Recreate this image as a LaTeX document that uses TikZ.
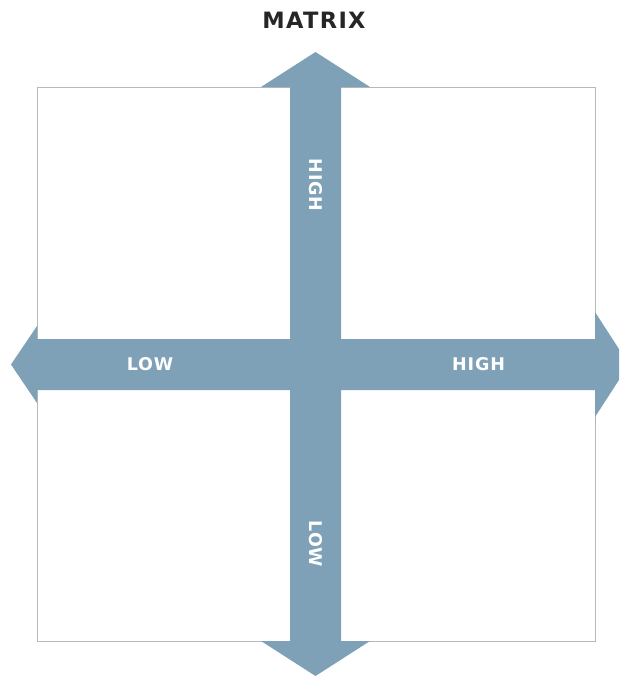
\documentclass[tikz,border=0pt]{standalone}
\usepackage{fontspec}
\setmainfont{DejaVu Sans}
\definecolor{arrowblue}{RGB}{127,161,183}
\definecolor{framegray}{RGB}{185,185,185}
\begin{document}
\begin{tikzpicture}[x=1pt,y=-1pt,
  lbl/.style={text=white,font=\fontsize{17.5}{20}\selectfont\bfseries\addfontfeature{LetterSpace=5},inner sep=0pt},
  ttl/.style={text=black!85,font=\fontsize{22.5}{26}\selectfont\bfseries\addfontfeature{LetterSpace=6},inner sep=0pt}]
\useasboundingbox (0,0) rectangle (619,677);
\clip (0,0) rectangle (619,677);
\fill[white] (0,0) rectangle (619,677);
\node[draw=framegray,line width=1pt,minimum width=558pt,minimum height=554pt,inner sep=0pt,anchor=north west] (frame) at (37,87) {};
% horizontal arrow
\fill[arrowblue] (11,364.5) -- (37,326) -- (37,339) -- (595,339) -- (595,312) -- (629,364.5) -- (595,417) -- (595,390) -- (37,390) -- (37,403) -- cycle;
% vertical arrow
\fill[arrowblue] (315.5,52) -- (370,87) -- (341,87) -- (341,641) -- (370,641) -- (315.5,676) -- (261,641) -- (290,641) -- (290,87) -- (261,87) -- cycle;
\node[ttl] (title) at (314,20) {MATRIX};
\node[lbl] (lowx) at (150,364.5) {LOW};
\node[lbl] (highx) at (478.5,364.5) {HIGH};
\node[lbl,rotate=-90] (highy) at (315.5,185) {HIGH};
\node[lbl,rotate=-90] (lowy) at (315.5,544) {LOW};
\end{tikzpicture}
\end{document}
